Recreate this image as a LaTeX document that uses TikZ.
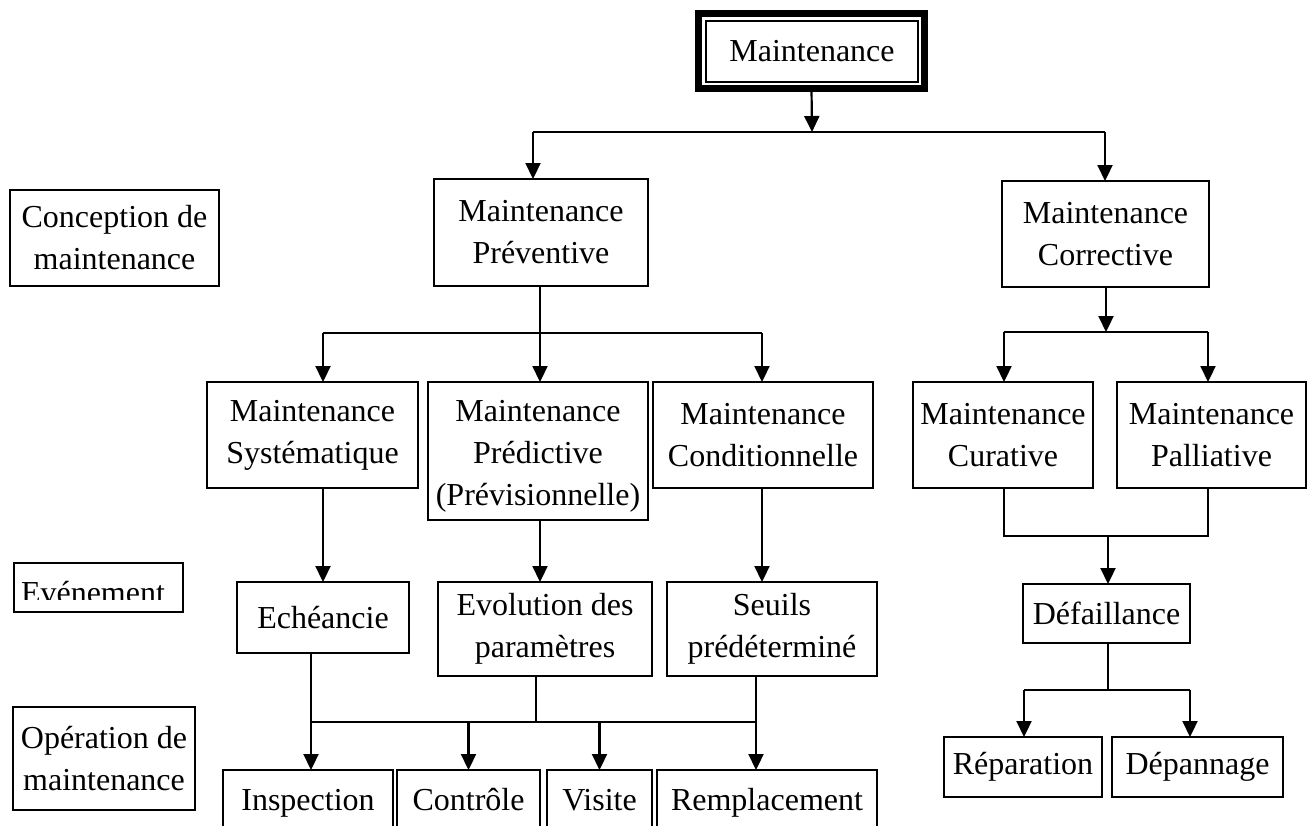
\documentclass[tikz,border=0pt]{standalone}
\usepackage{fontspec}
\setmainfont{Liberation Serif}
\usetikzlibrary{arrows.meta}

% box from corner (x1,y1) to corner (x2,y2), text centred
\newcommand\bx[6]{\node[box,minimum width={#4-#2},minimum height={#5-#3}] (#1) at ({(#2+#4)/2},{(#3+#5)/2}) {#6};}

\begin{document}
\begin{tikzpicture}[x=1pt,y=-1pt,
  box/.style={draw,line width=1.8pt,inner sep=0pt,outer sep=0pt,align=center,
    font=\fontsize{32}{42}\selectfont},
  lbl/.style={inner sep=0pt,outer sep=0pt,font=\fontsize{32}{42}\selectfont},
  link/.style={line width=2pt},
  arr/.style={line width=2.2pt,-{Triangle[width=15pt,length=16pt]}}]

\useasboundingbox (0,0) rectangle (1311,825);
\fill[white] (0,0) rectangle (1311,825);
\clip (0,0) rectangle (1311,825);

% root node with heavy double frame
\node[draw,line width=7pt,inner sep=0pt,outer sep=0pt,minimum width=226,minimum height=75] (main) at (811.5,51) {};
\node[box,line width=1.5pt,minimum width=212,minimum height=61] (maintxt) at (812,51.5) {Maintenance};

% level labels on the left
\bx{conc}{10}{190}{219}{286}{Conception de\\maintenance}
\node[draw,line width=1.8pt,inner sep=0pt,outer sep=0pt,minimum width=169,minimum height=49] (evt) at (98.5,587.5) {};
\begin{scope}
  \clip (14,563) rectangle (183,599);
  \node[lbl,anchor=base west] (evttxt) at (21,603) {Evénement};
\end{scope}
\bx{oper}{13}{707}{195}{810}{Opération de\\maintenance}

% second level
\bx{prev}{434}{179}{648}{286}{Maintenance\\Préventive}
\bx{corr}{1002}{181}{1209}{287}{Maintenance\\Corrective}

% third level
\bx{syst}{207}{382}{418}{488}{Maintenance\\Systématique}
\bx{pred}{428}{382}{648}{520}{}
\node[lbl,align=center,anchor=north] (predtxt) at (538,400) {Maintenance\\Prédictive\\(Prévisionnelle)};
\bx{cond}{653}{382}{873}{488}{Maintenance\\Conditionnelle}
\bx{cur}{913}{382}{1093}{488}{Maintenance\\Curative}
\bx{pal}{1117}{382}{1306}{488}{Maintenance\\Palliative}

% events
\bx{ech}{237}{582}{409}{653}{Echéancie}
\bx{evo}{438}{582}{652}{676}{Evolution des\\paramètres}
\bx{seu}{667}{582}{877}{676}{Seuils\\prédéterminé}
\bx{def}{1023}{584}{1190}{643}{Défaillance}

% operations
\bx{rep}{944}{737}{1102}{797}{Réparation}
\bx{dep}{1112}{737}{1283}{797}{Dépannage}
\bx{insp}{223}{770}{393}{840}{}
\bx{ctrl}{397}{770}{540}{840}{}
\bx{vis}{547}{770}{652}{840}{}
\bx{rem}{657}{770}{877}{840}{}
\node[lbl,anchor=base] (insptxt) at (308,810) {Inspection};
\node[lbl,anchor=base] (ctrltxt) at (468.5,810) {Contrôle};
\node[lbl,anchor=base] (vistxt) at (599.5,810) {Visite};
\node[lbl,anchor=base] (remtxt) at (767,810) {Remplacement};

% root split
\coordinate (t0) at (812,132);
\coordinate (tL) at (533,132);
\coordinate (tR) at (1105,132);
\draw[arr] (main.south) -- (t0);
\draw[link] (tL) -- (tR);
\draw[arr] (tL) -- (tL |- prev.north);
\draw[arr] (tR) -- (tR |- corr.north);

% preventive split
\coordinate (pL) at (323,333);
\coordinate (pM) at (540,333);
\coordinate (pR) at (762,333);
\draw[link] (pM |- prev.south) -- (pM);
\draw[link] (pL) -- (pR);
\draw[arr] (pL) -- (pL |- syst.north);
\draw[arr] (pM) -- (pM |- pred.north);
\draw[arr] (pR) -- (pR |- cond.north);

% corrective split
\coordinate (cL) at (1004,332);
\coordinate (cM) at (1106,332);
\coordinate (cR) at (1208,332);
\draw[arr] (cM |- corr.south) -- (cM);
\draw[link] (cL) -- (cR);
\draw[arr] (cL) -- (cL |- cur.north);
\draw[arr] (cR) -- (cR |- pal.north);

% preventive types to their events
\draw[arr] (pL |- syst.south) -- (pL |- ech.north);
\draw[arr] (pM |- pred.south) -- (pM |- evo.north);
\draw[arr] (pR |- cond.south) -- (pR |- seu.north);

% events to operations
\coordinate (oL) at (311,722);
\coordinate (oM) at (536,722);
\coordinate (oR) at (756,722);
\draw[link] (oM |- evo.south) -- (oM);
\draw[link] (oR |- seu.south) -- (oR);
\draw[link] (oL) -- (oR);
\draw[arr] (oL |- ech.south) -- (oL |- insp.north);
\draw[arr] (ctrl.north |- oL) -- (ctrl.north);
\draw[arr] (vis.north |- oL) -- (vis.north);
\draw[arr] (oR) -- (oR |- rem.north);

% corrective types to failure
\coordinate (kL) at (1004,536);
\coordinate (kM) at (1108,536);
\coordinate (kR) at (1208,536);
\draw[link] (kL |- cur.south) -- (kL) -- (kR) -- (kR |- pal.south);
\draw[arr] (kM) -- (kM |- def.north);

% failure to repair actions
\coordinate (dL) at (1024,690);
\coordinate (dM) at (1108,690);
\coordinate (dR) at (1190,690);
\draw[link] (dM |- def.south) -- (dM);
\draw[link] (dL) -- (dR);
\draw[arr] (dL) -- (dL |- rep.north);
\draw[arr] (dR) -- (dR |- dep.north);
\end{tikzpicture}
\end{document}
